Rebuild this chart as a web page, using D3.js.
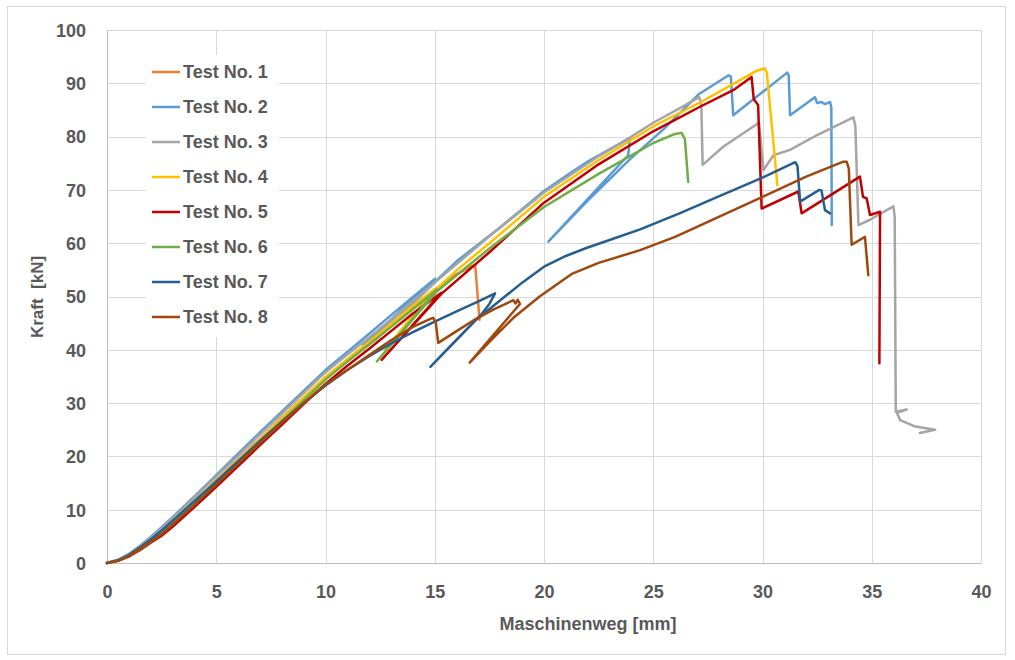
<!DOCTYPE html>
<html>
<head>
<meta charset="utf-8">
<script src="https://cdn.jsdelivr.net/npm/d3@7"></script>
<style>
  html, body { margin: 0; padding: 0; background: #fff; }
  svg { display: block; }
  text { font-family: "Liberation Sans", Arial, sans-serif; font-weight: bold; fill: #595959; }
</style>
</head>
<body>
<svg id="chart" width="1015" height="660"></svg>
<script>
// ---------- data (Maschinenweg [mm], Kraft [kN]) ----------
const seriesNames = ["Test No. 1","Test No. 2","Test No. 3","Test No. 4","Test No. 5","Test No. 6","Test No. 7","Test No. 8"];
const seriesColors = ["#ED7D31","#5B9BD5","#A5A5A5","#FFC000","#C00000","#70AD47","#255E91","#9E480E"];
const xTicks = [0,5,10,15,20,25,30,35,40];
const yTicks = [0,10,20,30,40,50,60,70,80,90,100];

const test1 = [[0,0],[0.5,0.5],[1,1.4],[1.5,2.8],[2,4.3],[2.5,6],[3,7.8],[4,11.6],[5,15.5],[6,19.4],[7,23.3],[8,27.2],[9,31],[10,34.8],[11,38.2],[12,41.5],[13,44.8],[14,48],[15,51.2],[16,54.2],[16.85,56],[17.05,45.6]];
const test2 = [[0,0],[0.5,0.6],[1,1.7],[1.5,3.2],[2,4.9],[2.5,6.7],[3,8.6],[4,12.5],[5,16.5],[6,20.5],[7,24.5],[8,28.4],[9,32.3],[10,36.2],[11,39.6],[12,43],[13,46.5],[14,49.9],[15,53.3],[11.73,40.9],[15.2,53.5],[16,56.6],[17,59.8],[18,63],[19,66.4],[20,69.8],[21,72.6],[22,75.3],[23,77.6],[23.94,79.7],[23.85,76.5],[20.2,60.3],[22,68],[24,76],[25.5,81.5],[27.1,88],[28.45,91.5],[28.55,91.3],[28.66,84],[31.13,92],[31.2,91.5],[31.26,84],[32.4,87.4],[32.5,86.3],[32.7,86.5],[32.86,86.1],[33.09,86.5],[33.15,85.5],[33.17,63.4]];
const test3 = [[0,0],[0.5,0.5],[1,1.6],[1.5,3.1],[2,4.7],[2.5,6.5],[3,8.4],[4,12.3],[5,16.2],[6,20.1],[7,24.1],[8,28],[9,31.9],[10,35.8],[11,39.1],[12,42.3],[13,45.7],[14,49.2],[14.8,51.9],[12.27,41.8],[15,52.6],[16,56.1],[17.5,61.3],[20,69.5],[22.5,76.3],[24,80],[25,82.6],[26.2,85.3],[27.1,87.4],[27.2,86],[27.26,74.7],[28.2,78.1],[29.84,82.6],[29.9,80],[30.04,73.7],[30.5,76.5],[31.26,77.5],[32.5,80.3],[34.16,83.6],[34.25,82],[34.39,63.4],[34.92,64.4],[35.99,66.9],[36.05,65],[36.1,28.4],[36.6,28.8],[36.15,28.2],[36.3,26.8],[37,25.6],[37.9,25],[37.2,24.4]];
const test4 = [[0,0],[0.5,0.5],[1,1.4],[1.5,2.8],[2,4.3],[2.5,6],[3,7.8],[4,11.6],[5,15.5],[6,19.3],[7,23.2],[8,27.1],[9,31],[10,34.9],[11,38.2],[12,41.5],[13,44.9],[14,48.2],[15,51.4],[12.72,40],[15.1,51.5],[16,54.9],[17.5,60],[20,68.7],[22.5,75.6],[25,81.9],[27.14,86.4],[28.5,89.5],[29.7,92.3],[30.1,92.8],[30.2,92],[30.68,70.9]];
const test5 = [[0,0],[0.5,0.4],[1,1.2],[1.5,2.4],[2,3.8],[2.5,5.1],[3,6.8],[4,10.5],[5,14.3],[6,18.2],[7,22.1],[8,25.9],[9,29.8],[10,33.6],[11,37],[12,40.2],[13,43.5],[14,46.8],[15.3,50.7],[12.57,38.1],[15.3,50.5],[17.5,58.3],[20,67.6],[22.5,74.8],[25,81],[27.14,85.6],[28.66,88.7],[29.5,91.2],[29.6,87],[29.7,86.5],[29.8,85.9],[29.96,66.5],[31.64,69.7],[31.79,65.6],[34.46,72.5],[34.6,68.7],[34.77,68.4],[34.92,65.3],[35.38,65.9],[35.35,37.5]];
const test6 = [[0,0],[0.5,0.4],[1,1.3],[1.5,2.6],[2,4],[2.5,5.6],[3,7.3],[4,11],[5,14.9],[6,18.8],[7,22.7],[8,26.6],[9,30.5],[10,34.4],[11,37.8],[12,41],[13,44.3],[14,47.6],[15.1,51.3],[12.35,37.8],[15.1,51],[17.5,59],[20,66.8],[22.5,73],[25,78.8],[26,80.5],[26.3,80.7],[26.45,79.5],[26.6,71.5]];
const test7 = [[0,0],[0.5,0.5],[1,1.5],[1.5,2.9],[2,4.4],[2.5,6.1],[3,7.9],[4,11.6],[5,15.3],[6,19.1],[7,22.9],[8,26.5],[9,30],[10,33.3],[11,36.2],[12,38.8],[13,41.2],[14,43.3],[15,45.3],[16,47.2],[17,49.1],[17.76,50.6],[17.5,48.6],[17.1,46.5],[14.8,36.8],[15.5,39.8],[16.8,45.3],[18,49.3],[19,52.6],[20,55.6],[21,57.6],[22,59.2],[23,60.6],[24.4,62.6],[26.2,65.6],[28,68.8],[30,72.3],[31.5,75.2],[31.6,74.5],[31.72,67.8],[32.6,70],[32.7,69.9],[32.86,66.2],[33.09,65.6]];
const test8 = [[0,0],[0.5,0.4],[1,1.3],[1.5,2.6],[2,4],[2.5,5.4],[3,7.2],[4,10.9],[5,14.7],[6,18.6],[7,22.5],[8,26.3],[9,30],[10,33.5],[11,36.2],[12,39],[13,41.8],[14,44.3],[14.8,45.8],[14.93,46],[15.05,45],[15.16,41.3],[16,43.5],[16.8,45.6],[17.7,47.6],[18.6,49.3],[18.7,48.7],[18.8,49.4],[18.9,48.6],[16.6,37.6],[17.5,41.5],[18.6,46],[19.8,50],[21.3,54.3],[22.5,56.3],[24.4,58.7],[26,61.2],[27.5,64],[30,68.7],[32,72.5],[33.7,75.3],[33.85,75.3],[33.95,74],[34.08,59.7],[34.69,61.2],[34.84,54]];
const seriesData = [test1,test2,test3,test4,test5,test6,test7,test8];

// ---------- layout ----------
const svg = d3.select("#chart");
const plot = {left: 107, right: 981, top: 30, bottom: 563};

svg.append("rect").attr("x", 7.5).attr("y", 6.5).attr("width", 998).attr("height", 648)
  .attr("fill", "#fff").attr("stroke", "#D9D9D9").attr("stroke-width", 1);

const x = d3.scaleLinear().domain([0, 40]).range([plot.left, plot.right]);
const y = d3.scaleLinear().domain([0, 100]).range([plot.bottom, plot.top]);

// gridlines
const grid = svg.append("g");
grid.selectAll("line.v").data(xTicks).join("line")
  .attr("x1", d => Math.round(x(d)) + 0.5).attr("x2", d => Math.round(x(d)) + 0.5)
  .attr("y1", plot.top).attr("y2", plot.bottom)
  .attr("stroke", "#D9D9D9").attr("stroke-width", 1);
grid.selectAll("line.h").data(yTicks).join("line")
  .attr("y1", d => Math.round(y(d)) + 0.5).attr("y2", d => Math.round(y(d)) + 0.5)
  .attr("x1", plot.left).attr("x2", plot.right)
  .attr("stroke", "#D9D9D9").attr("stroke-width", 1);

// axes (labels only, Excel style)
const xAxis = d3.axisBottom(x).tickValues(xTicks).tickSize(0).tickPadding(0);
const gx = svg.append("g").attr("transform", `translate(0,${plot.bottom})`).call(xAxis);
gx.select(".domain").attr("stroke", "#BFBFBF");
gx.selectAll("text").attr("dy", null).attr("y", 35).style("font-size", "18px")
  .style("font-family", "'Liberation Sans', Arial, sans-serif").style("font-weight", "bold").attr("fill", "#595959");

const yAxis = d3.axisLeft(y).tickValues(yTicks).tickSize(0).tickPadding(0);
const gy = svg.append("g").attr("transform", `translate(${plot.left},0)`).call(yAxis);
gy.select(".domain").attr("stroke", "#BFBFBF");
gy.selectAll("text").attr("x", -21).attr("dy", "0.35em").style("font-size", "18px")
  .style("font-family", "'Liberation Sans', Arial, sans-serif").style("font-weight", "bold").attr("fill", "#595959");

// axis titles
svg.append("text").attr("x", 588).attr("y", 630).attr("text-anchor", "middle")
  .style("font-size", "18px").text("Maschinenweg [mm]");
svg.append("text").attr("transform", "translate(43,297) rotate(-90)").attr("text-anchor", "middle")
  .style("font-size", "17px").attr("xml:space", "preserve").style("white-space", "pre").text("Kraft  [kN]");

// series
const line = d3.line().x(d => x(d[0])).y(d => y(d[1])).curve(d3.curveLinear);
svg.append("g").selectAll("path").data(seriesData).join("path")
  .attr("d", d => line(d))
  .attr("fill", "none")
  .attr("stroke", (d, i) => seriesColors[i])
  .attr("stroke-width", 2.5)
  .attr("stroke-linejoin", "round")
  .attr("stroke-linecap", "round");

// legend
const lg = svg.append("g");
lg.append("rect").attr("x", 146).attr("y", 55).attr("width", 133).attr("height", 282).attr("fill", "#fff");
const items = lg.selectAll("g").data(seriesNames).join("g")
  .attr("transform", (d, i) => `translate(0,${72 + i * 35})`);
items.append("line").attr("x1", 152).attr("x2", 180).attr("y1", 0).attr("y2", 0)
  .attr("stroke", (d, i) => seriesColors[i]).attr("stroke-width", 2.5);
items.append("text").attr("x", 183).attr("y", 0).attr("dy", "0.35em")
  .style("font-size", "18px").text(d => d);
</script>
</body>
</html>
